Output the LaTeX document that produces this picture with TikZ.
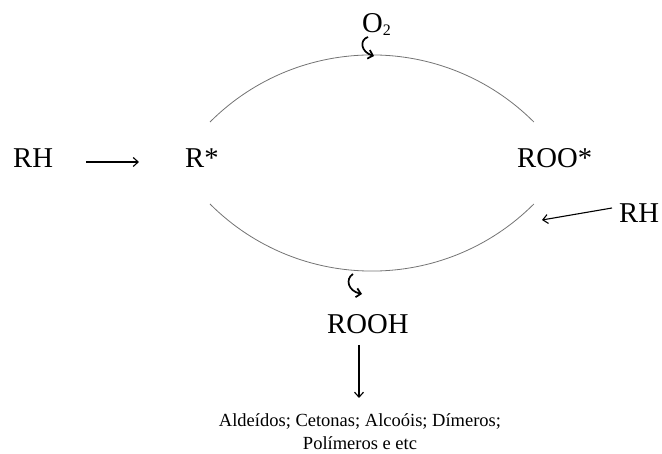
\documentclass[tikz,border=0pt]{standalone}
\usepackage{fontspec}
\setmainfont{Liberation Serif}
\usetikzlibrary{arrows.meta,calc}
\begin{document}
\begin{tikzpicture}[x=1pt,y=1pt,
  big/.style={inner sep=0pt,anchor=base west,font=\fontsize{28.7}{34}\selectfont},
  small/.style={inner sep=0pt,anchor=base,font=\fontsize{18.5}{23}\selectfont},
  arr/.style={line width=1.1pt,-{Straight Barb[length=5pt,width=9pt]}},
  curl/.style={line width=1.7pt,-{Straight Barb[length=4.5pt,width=9pt]}},
  cyc/.style={line width=0.8pt,draw=black!55}]
\useasboundingbox (0,0) rectangle (662,453);
% texts
\node[big] (RH1) at (13,285) {RH};
\node[big] (R) at (185,285) {R*};
\node[big] (ROO) at (517,285) {ROO*};
\node[big] (RH2) at (619,230) {RH};
\node[big] (O2) at (362,420) {O\raisebox{-3pt}{\fontsize{16}{16}\selectfont 2}};
\node[big] (ROOH) at (327,119) {ROOH};
\node[small] (L1) at (360,27) {Aldeídos; Cetonas; Alcoóis; Dímeros;};
\node[small] (L2) at (360,4) {Polímeros e etc};
% cycle arcs
\draw[cyc] (210,331) arc[start angle=135,end angle=45,radius=229];
\draw[cyc] (210,249) arc[start angle=225,end angle=315,radius=229];
% arrows
\draw[arr] ($(RH1.base east)+(33,6)$) -- ($(R.base west)+(-46,6)$);
\coordinate (tipR) at (542,233);
\draw[arr] ($(RH2.base west)+(-7,15)$) -- (tipR);
\draw[arr] ($(ROOH.base west)+(32,-11)$) -- ($(L1.base)+(-1,28)$);
% curly arrows
\draw[curl] ($(O2.base west)+(6,-4)$) .. controls +(-9,-3) and +(-13,4) .. ($(O2.base west)+(12,-23)$);
\draw[curl] ($(ROOH.base west)+(26,60)$) .. controls +(-8,-5) and +(-14,3) .. ($(ROOH.base west)+(35,40)$);
\end{tikzpicture}
\end{document}
